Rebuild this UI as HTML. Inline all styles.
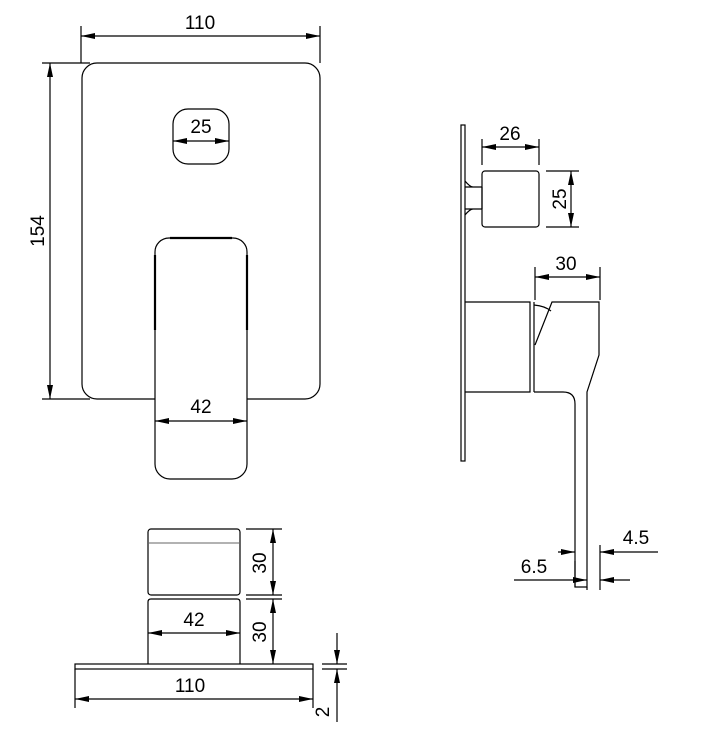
<!DOCTYPE html>
<html><head><meta charset="utf-8"><style>
html,body{margin:0;padding:0;background:#fff;}
svg{display:block;}
text{font-family:"Liberation Sans",Arial,sans-serif;font-size:19px;fill:#000;}
</style></head><body>
<svg width="710" height="740" viewBox="0 0 710 740" xmlns="http://www.w3.org/2000/svg">
<defs>
<marker id="a" viewBox="0 0 14 6" refX="14" refY="3" markerWidth="14" markerHeight="6" markerUnits="userSpaceOnUse" orient="auto-start-reverse">
<path d="M0,0 L14,3 L0,6 Z" fill="#000"/></marker>
</defs>
<g fill="none" stroke="#000" stroke-width="1.2">
<path d="M155,399 L97,399 A15,15 0 0 1 82,384 L82,78 A15,15 0 0 1 97,63 L305,63 A15,15 0 0 1 320,78 L320,384 A15,15 0 0 1 305,399 L247,399"/>
<rect x="173" y="109" width="56" height="55" rx="15"/>
<path d="M155,252 A14,14 0 0 1 169,238 L233,238 A14,14 0 0 1 247,252 L247,464 A15,15 0 0 1 232,479 L170,479 A15,15 0 0 1 155,464 Z"/>
<path d="M155,255 L155,330 M247,255 L247,330 M170,238 L232,238" stroke-width="2.2"/>
<path d="M81,26 L81,63 M320,26 L320,63"/>
<path d="M81,36 L320,36" marker-start="url(#a)" marker-end="url(#a)"/>
<path d="M42,63 L90,63 M42,399 L90,399"/>
<path d="M50,63 L50,399" marker-start="url(#a)" marker-end="url(#a)"/>
<path d="M173,141 L229,141" marker-start="url(#a)" marker-end="url(#a)"/>
<path d="M155,421 L247,421" marker-start="url(#a)" marker-end="url(#a)"/>

<rect x="461" y="125" width="4" height="336"/>
<rect x="482" y="171" width="57" height="56" rx="3"/>
<path d="M465,187 L482,187 M465,209 L482,209 M482,187 L482,209 M465,181 Q470,187 473,187 M465,215 Q470,209 473,209"/>
<path d="M482,139 L482,165 M539,139 L539,165"/>
<path d="M482,147 L539,147" marker-start="url(#a)" marker-end="url(#a)"/>
<path d="M546,171 L579,171 M546,227 L579,227"/>
<path d="M571,171 L571,227" marker-start="url(#a)" marker-end="url(#a)"/>
<path d="M465,302 L530,302 L530,392 L465,392"/>
<path d="M534,302 L534,392"/>
<path d="M534,305 Q545,306 551,311"/>
<path d="M535,345 L552,302 L599,302 L599,355 L587,392 L587,587 L575,587 L575,404 Q575,392 563,392 L534,392"/>
<path d="M535,267 L535,300 M600,267 L600,300"/>
<path d="M535,277 L600,277" marker-start="url(#a)" marker-end="url(#a)"/>
<path d="M575,587 L575,561 M587,587 L587,590 M600,545 L600,590"/>
<path d="M558,552 L575,552" marker-end="url(#a)"/>
<path d="M658,552 L600,552" marker-end="url(#a)"/>
<path d="M514,580 L587,580" marker-end="url(#a)"/>
<path d="M630,580 L600,580" marker-end="url(#a)"/>

<rect x="75" y="664" width="238" height="5"/>
<rect x="148" y="529" width="92" height="66" rx="3"/>
<path d="M149,543 L239,543" stroke="#999" stroke-width="1.6"/>
<path d="M148,664 L148,602 Q148,599 151,599 L237,599 Q240,599 240,602 L240,664"/>
<path d="M246,529 L282,529 M246,595 L282,595 M246,599 L282,599"/>
<path d="M273,529 L273,595" marker-start="url(#a)" marker-end="url(#a)"/>
<path d="M273,599 L273,664" marker-start="url(#a)" marker-end="url(#a)"/>
<path d="M148,633 L240,633" marker-start="url(#a)" marker-end="url(#a)"/>
<path d="M75,669 L75,708 M313,669 L313,708"/>
<path d="M75,699 L313,699" marker-start="url(#a)" marker-end="url(#a)"/>
<path d="M322,664 L347,664 M322,669 L347,669"/>
<path d="M337,633 L337,664" marker-end="url(#a)"/>
<path d="M337,722 L337,669" marker-end="url(#a)"/>
</g>
<g text-anchor="middle">
<text x="200" y="29">110</text>
<text transform="translate(44,231) rotate(-90)">154</text>
<text x="201" y="133">25</text>
<text x="201" y="413">42</text>
<text x="510" y="140">26</text>
<text transform="translate(566,199) rotate(-90)">25</text>
<text x="566" y="270">30</text>
<text x="636" y="544">4.5</text>
<text x="534" y="573">6.5</text>
<text transform="translate(266,563) rotate(-90)">30</text>
<text transform="translate(266,632) rotate(-90)">30</text>
<text x="194" y="626">42</text>
<text x="190" y="692">110</text>
<text transform="translate(329,712) rotate(-90)">2</text>
</g>
</svg>
</body></html>
